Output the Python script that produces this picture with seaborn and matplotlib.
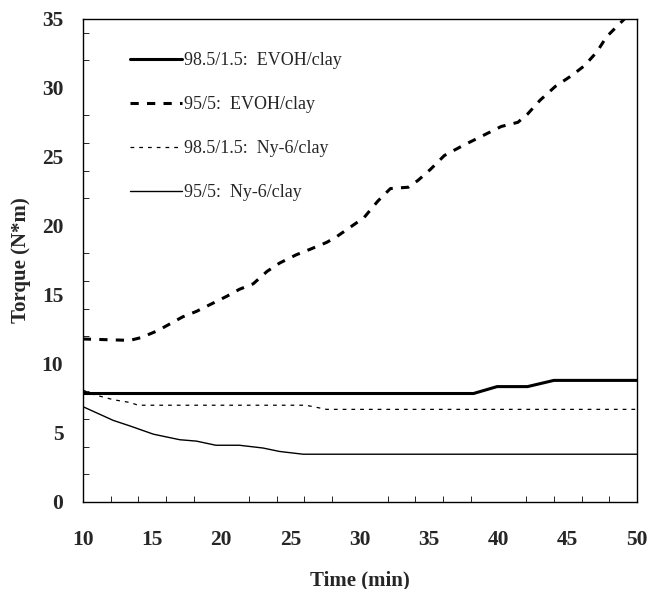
import pandas as pd
import matplotlib
matplotlib.use("Agg")
import matplotlib.pyplot as plt
from matplotlib.ticker import MultipleLocator
import seaborn as sns

# 98.5/1.5 EVOH/clay (thick solid)
evoh15_t = [10, 38.2, 39.9, 42.1, 44.0, 50]
evoh15_v = [7.85, 7.85, 8.35, 8.35, 8.8, 8.8]

# 95/5 EVOH/clay (thick dashed)
evoh5_t = [10, 13.4, 14.2, 15.4, 17.2, 18.2, 19.4, 20.4, 21.3, 22.3, 23.3, 24.2,
           25.4, 26.4, 27.6, 28.3, 29.3, 30.3, 31.3, 32.2, 33.5, 34.2, 35.1, 36.1,
           37.4, 38.2, 39.2, 40.2, 41.4, 42.1, 43.0, 44.1, 45.3, 46.2, 47.1, 47.8,
           48.3, 49.1, 50]
evoh5_v = [11.8, 11.7, 11.9, 12.4, 13.4, 13.8, 14.4, 14.9, 15.4, 15.8, 16.7, 17.3,
           17.9, 18.3, 18.8, 19.2, 19.9, 20.6, 21.8, 22.7, 22.8, 23.3, 24.1, 25.1,
           25.8, 26.2, 26.7, 27.2, 27.5, 28.1, 29.1, 30.1, 30.9, 31.6, 32.6, 33.7,
           34.2, 35.0, 35.5]

# 98.5/1.5 Ny-6/clay (thin dotted)
ny15_t = [10, 10.7, 12.2, 13.4, 14.0, 26.1, 27.6, 50]
ny15_v = [8.1, 7.8, 7.4, 7.2, 7.0, 7.0, 6.7, 6.7]

# 95/5 Ny-6/clay (thin solid)
ny5_t = [10, 12.2, 13.4, 15.1, 17.0, 18.2, 19.6, 21.3, 23.0, 24.2, 25.9, 50]
ny5_v = [6.9, 5.9, 5.5, 4.9, 4.5, 4.4, 4.1, 4.1, 3.9, 3.65, 3.45, 3.45]

series = [
    ("98.5/1.5:  EVOH/clay", evoh15_t, evoh15_v, 2.2, "-"),
    ("95/5:  EVOH/clay", evoh5_t, evoh5_v, 2.2, (0, (2.7, 2.7))),
    ("98.5/1.5:  Ny-6/clay", ny15_t, ny15_v, 0.9, (0, (3, 4))),
    ("95/5:  Ny-6/clay", ny5_t, ny5_v, 1.0, "-"),
]

sns.set_style("ticks")
plt.rcParams["font.family"] = ["Liberation Serif", "DejaVu Serif"]

fig = plt.figure(figsize=(6.52, 5.89), dpi=100)
ax = fig.add_axes([0.127, 0.148, 0.85, 0.82])

for name, t, v, lw, ls in series:
    df = pd.DataFrame({"Time": t, "Torque": v})
    sns.lineplot(data=df, x="Time", y="Torque", ax=ax, color="black",
                 linewidth=lw, linestyle=ls, label=name)

ax.set_xlim(10, 50)
ax.set_ylim(0, 35)
ax.xaxis.set_major_locator(MultipleLocator(5))
ax.yaxis.set_major_locator(MultipleLocator(5))
ax.xaxis.set_minor_locator(MultipleLocator(2))
ax.yaxis.set_minor_locator(MultipleLocator(2))
ax.tick_params(which="major", length=0, labelsize=15.5)
ax.tick_params(axis="y", which="major", pad=14)
ax.tick_params(axis="x", which="major", pad=20)
ax.tick_params(which="minor", direction="in", length=4, width=0.7)
for lab in ax.get_xticklabels() + ax.get_yticklabels():
    lab.set_fontweight("bold")

for sp in ax.spines.values():
    sp.set_visible(True)
    sp.set_color("black")
    sp.set_linewidth(1.0)

ax.set_xlabel("Time (min)", fontsize=15, fontweight="bold", labelpad=15)
ax.set_ylabel("Torque (N*m)", fontsize=15, fontweight="bold", labelpad=8)

leg = ax.legend(loc="upper left", bbox_to_anchor=(0.055, 0.965), frameon=False,
                fontsize=13, handlelength=2.9, handletextpad=0.1,
                labelspacing=1.5)

fig.savefig("out.png", dpi=100)
